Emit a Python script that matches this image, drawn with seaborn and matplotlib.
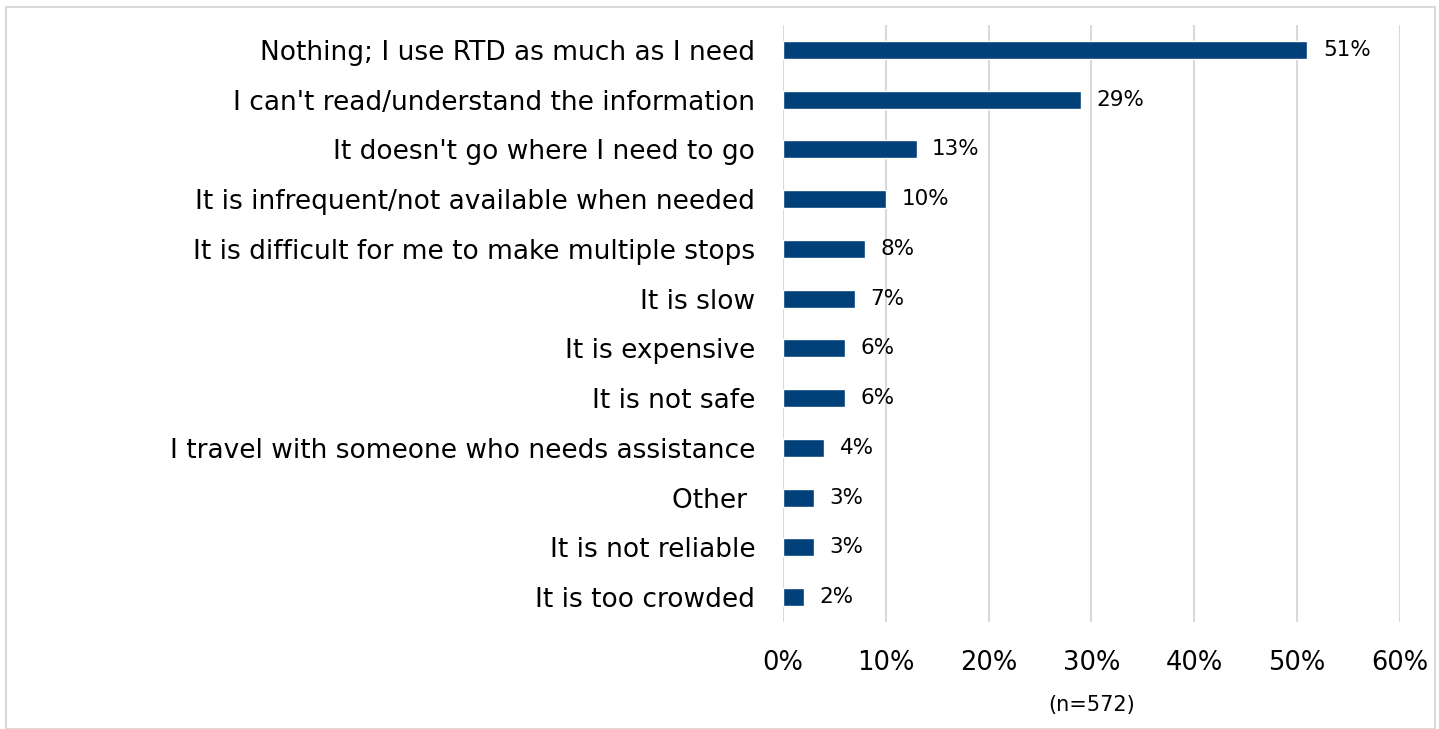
import matplotlib.pyplot as plt
import pandas as pd
import seaborn as sns

reasons = [
    "Nothing; I use RTD as much as I need",
    "I can't read/understand the information",
    "It doesn't go where I need to go",
    "It is infrequent/not available when needed",
    "It is difficult for me to make multiple stops",
    "It is slow",
    "It is expensive",
    "It is not safe",
    "I travel with someone who needs assistance",
    "Other ",
    "It is not reliable",
    "It is too crowded",
]
shares = [51, 29, 13, 10, 8, 7, 6, 6, 4, 3, 3, 2]
ticks = [0, 10, 20, 30, 40, 50, 60]
note = "(n=572)"

d = pd.DataFrame({"reason": reasons, "share": shares})

sns.set_style("white")
plt.rcParams["font.family"] = ["DejaVu Sans"]
plt.rcParams["text.color"] = "black"
plt.rcParams["xtick.color"] = "black"
plt.rcParams["ytick.color"] = "black"
plt.rcParams["axes.labelcolor"] = "black"

fig = plt.figure(figsize=(14.39, 7.29), dpi=100)
ax = fig.add_axes([0.5441, 0.1468, 0.4288, 0.8189])

sns.barplot(data=d, y="reason", x="share", color="#02407A", width=0.36,
            saturation=1, ax=ax, zorder=3)

for i, v in enumerate(shares):
    ax.text(v + 1.5, i, f"{v}%", va="center", ha="left", fontsize=15.5)

ax.set_xlim(0, 60)
ax.set_xticks(ticks)
ax.set_xticklabels([f"{t}%" for t in ticks], fontsize=18.5)
ax.tick_params(axis="x", length=0, pad=20)
ax.tick_params(axis="y", length=0, pad=20, labelsize=19)
ax.set_ylabel("")
ax.set_xlabel(note, fontsize=15, labelpad=14)
ax.grid(axis="x", color="#D9D9D9", linewidth=1.5, zorder=0)
for s in ax.spines.values():
    s.set_visible(False)

fig.patches.append(plt.Rectangle((6 / 1439, 0), 1429 / 1439, 1 - 7 / 729,
                                 transform=fig.transFigure, fill=False,
                                 edgecolor="#D9D9D9", linewidth=1.5))

fig.savefig("out.png", dpi=100)
